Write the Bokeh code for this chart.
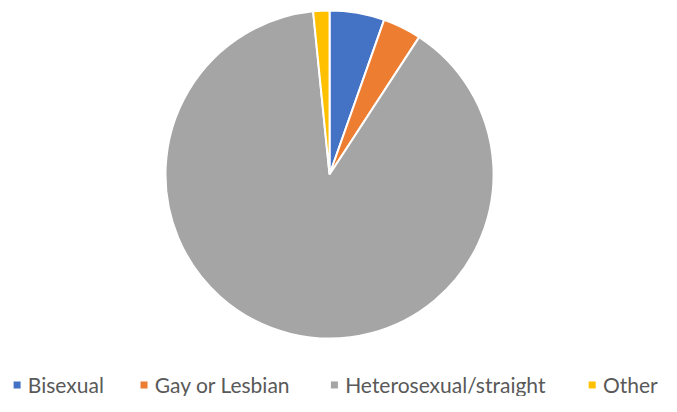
import math
from bokeh.plotting import figure
from bokeh.models import Range1d, ColumnDataSource
from bokeh.core.properties import value
from bokeh.embed import file_html
from bokeh.resources import INLINE

categories = ["Bisexual", "Gay or Lesbian", "Heterosexual/straight", "Other"]
shares = [5.4, 3.8, 89.2, 1.6]
colors = ["#4472C4", "#ED7D31", "#A5A5A5", "#FFC000"]

# layout: reference-pixel coordinates (677 x 412), y measured downward -> negated
W, H = 661, 396
RW, RH = 677, 412
cx, cy, R = 337, 181, 168
legend_marker_x = [17, 147, 342, 606]
legend_y = 399

p = figure(width=W, height=H, output_backend="svg", toolbar_location=None,
           x_range=Range1d(0, RW), y_range=Range1d(-RH, 0),
           min_border=0)
p.axis.visible = False
p.grid.visible = False
p.outline_line_color = None
p.background_fill_color = "white"

total = sum(shares)
starts, ends = [], []
acc = 0.0
for s in shares:
    a0 = math.pi / 2 - 2 * math.pi * acc / total
    acc += s
    a1 = math.pi / 2 - 2 * math.pi * acc / total
    starts.append(a0)
    ends.append(a1)

src = ColumnDataSource(dict(start=starts, end=ends, color=colors, cat=categories))
p.wedge(x=cx, y=-cy, radius=R, start_angle="start", end_angle="end",
        direction="clock", fill_color="color", line_color="white",
        line_width=2, source=src)

lsrc = ColumnDataSource(dict(x=legend_marker_x, tx=[x + 11 for x in legend_marker_x],
                             y=[-legend_y] * 4, my=[-(legend_y + 1)] * 4,
                             color=colors, cat=categories))
p.scatter(x="x", y="my", marker="square", size=7, fill_color="color",
          line_color=None, source=lsrc)
p.text(x="tx", y="y", text="cat", text_font=value("Lato"), text_font_size="21px",
       text_baseline="middle", text_align="left", text_color="#595959", source=lsrc)

open("out.html", "w").write(file_html(p, INLINE))
